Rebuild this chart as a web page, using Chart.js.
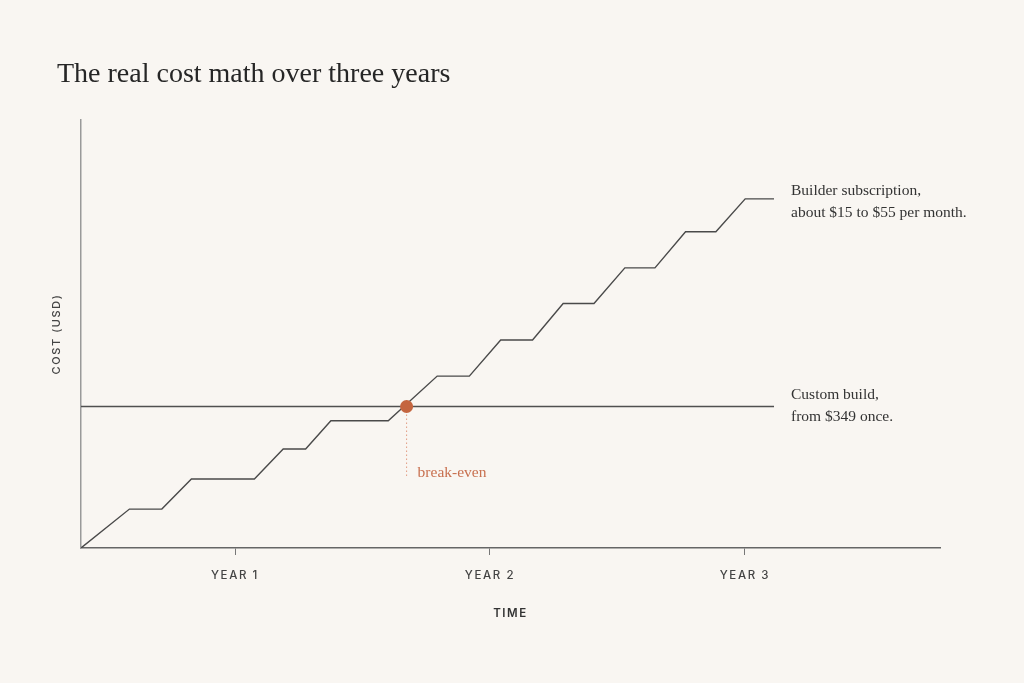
<!DOCTYPE html>
<html>
<head>
<meta charset="utf-8">
<script src="https://cdn.jsdelivr.net/npm/chart.js@4.4.1/dist/chart.umd.min.js"></script>
<style>
html, body { margin: 0; padding: 0; background: #f9f6f2; }
#grafico { display: block; }
</style>
</head>
<body>
<canvas id="grafico" width="1024" height="683"></canvas>
<script>
const TITULO = 'The real cost math over three years';
const anosTicks = [1, 2, 3];

// assinatura: custo acumulado em degraus (anos, USD)
const assinaturaX = [0.396, 0.586, 0.713, 0.829, 1.076, 1.189, 1.277, 1.376, 1.601, 1.793, 1.919,
                     2.042, 2.167, 2.287, 2.408, 2.529, 2.647, 2.767, 2.886, 3.001, 3.114];
const assinaturaY = [0, 96, 96, 170, 170, 244, 244, 314, 314, 424, 424,
                     513, 513, 603, 603, 691, 691, 780, 780, 861, 861];

// build sob medida: pagamento unico
const customX = [0.396, 3.114];
const customY = [349, 349];

const breakEvenX = 1.673;
const breakEvenY = 349;
const quedaY = 173;

const rotuloAssinatura = ['Builder subscription,', 'about $15 to $55 per month.'];
const rotuloCustom = ['Custom build,', 'from $349 once.'];
const rotuloBreakEven = 'break-even';

const X_MIN = 0.396, X_MAX = 3.765;
const Y_MIN = 0, Y_MAX = 1055.6;

const SERIF = '"Liberation Serif", "DejaVu Serif", serif';
const SANS = 'Inter, "Noto Sans", sans-serif';

const pontos = (xs, ys) => xs.map((x, i) => ({ x: x, y: ys[i] }));

const textosPlugin = {
    id: 'textos',
    beforeDraw(chart) {
        chart.ctx.letterSpacing = '1.6px';
    },
    afterDraw(chart) {
        const ctx = chart.ctx;
        const xs = chart.scales.x;
        const ys = chart.scales.y;
        ctx.save();
        ctx.letterSpacing = '0px';
        ctx.textBaseline = 'alphabetic';
        ctx.textAlign = 'left';

        ctx.fillStyle = '#262626';
        ctx.font = '28px ' + SERIF;
        ctx.fillText(TITULO, 57, 82);

        ctx.fillStyle = '#333';
        ctx.font = '15.5px ' + SERIF;
        const n = assinaturaX.length - 1;
        let lx = xs.getPixelForValue(assinaturaX[n]) + 17;
        let ly = ys.getPixelForValue(assinaturaY[n]);
        ctx.fillText(rotuloAssinatura[0], lx, ly - 4);
        ctx.fillText(rotuloAssinatura[1], lx, ly + 18);

        lx = xs.getPixelForValue(customX[1]) + 17;
        ly = ys.getPixelForValue(customY[1]);
        ctx.fillText(rotuloCustom[0], lx, ly - 7);
        ctx.fillText(rotuloCustom[1], lx, ly + 15);

        ctx.fillStyle = '#c8704f';
        ctx.fillText(rotuloBreakEven, xs.getPixelForValue(breakEvenX) + 11, ys.getPixelForValue(quedaY) - 1);
        ctx.restore();
    }
};

const ctx = document.getElementById('grafico').getContext('2d');
const grafico = new Chart(ctx, {
    type: 'line',
    data: {
        datasets: [
            {
                label: 'Builder subscription',
                data: pontos(assinaturaX, assinaturaY),
                borderColor: '#4a4a4a',
                borderWidth: 1.4,
                pointRadius: 0,
                tension: 0,
                order: 1
            },
            {
                label: 'Custom build',
                data: pontos(customX, customY),
                borderColor: '#505050',
                borderWidth: 1.3,
                pointRadius: 0,
                order: 2
            },
            {
                label: 'break-even drop',
                data: [{ x: breakEvenX, y: breakEvenY }, { x: breakEvenX, y: quedaY }],
                borderColor: '#e09c82',
                borderWidth: 1,
                borderDash: [1.5, 2.5],
                pointRadius: 0,
                order: 3
            },
            {
                label: 'break-even',
                data: [{ x: breakEvenX, y: breakEvenY }],
                showLine: false,
                pointRadius: 6.5,
                pointBackgroundColor: '#c4653f',
                pointBorderWidth: 0,
                order: 0
            }
        ]
    },
    options: {
        responsive: false,
        animation: false,
        layout: { padding: { top: 120, right: 84, left: 0, bottom: 0 } },
        plugins: {
            legend: { display: false },
            tooltip: { enabled: false }
        },
        scales: {
            x: {
                type: 'linear',
                min: X_MIN,
                max: X_MAX,
                afterBuildTicks: (s) => { s.ticks = anosTicks.map(v => ({ value: v })); },
                afterFit: (s) => { s.height = 135; },
                ticks: {
                    callback: (v) => 'YEAR ' + v,
                    color: '#444',
                    font: { family: SANS, size: 11.5, weight: 500 },
                    padding: 14,
                    maxRotation: 0,
                    autoSkip: false
                },
                grid: { drawOnChartArea: false, drawTicks: true, tickLength: 7, color: '#777', lineWidth: 1 },
                border: { color: '#666', width: 1.5 },
                title: {
                    display: true,
                    text: 'TIME',
                    color: '#333',
                    font: { family: SANS, size: 11.5, weight: 600 },
                    padding: { top: 0, bottom: 63 }
                }
            },
            y: {
                min: Y_MIN,
                max: Y_MAX,
                afterFit: (s) => { s.width = 81; },
                ticks: { display: false },
                grid: { display: false },
                border: { color: '#9a9a9a', width: 1.5 },
                title: {
                    display: true,
                    text: 'COST (USD)',
                    color: '#444',
                    font: { family: SANS, size: 11, weight: 500 },
                    padding: { top: 50, bottom: 0 }
                }
            }
        }
    },
    plugins: [textosPlugin]
});
</script>
</body>
</html>
